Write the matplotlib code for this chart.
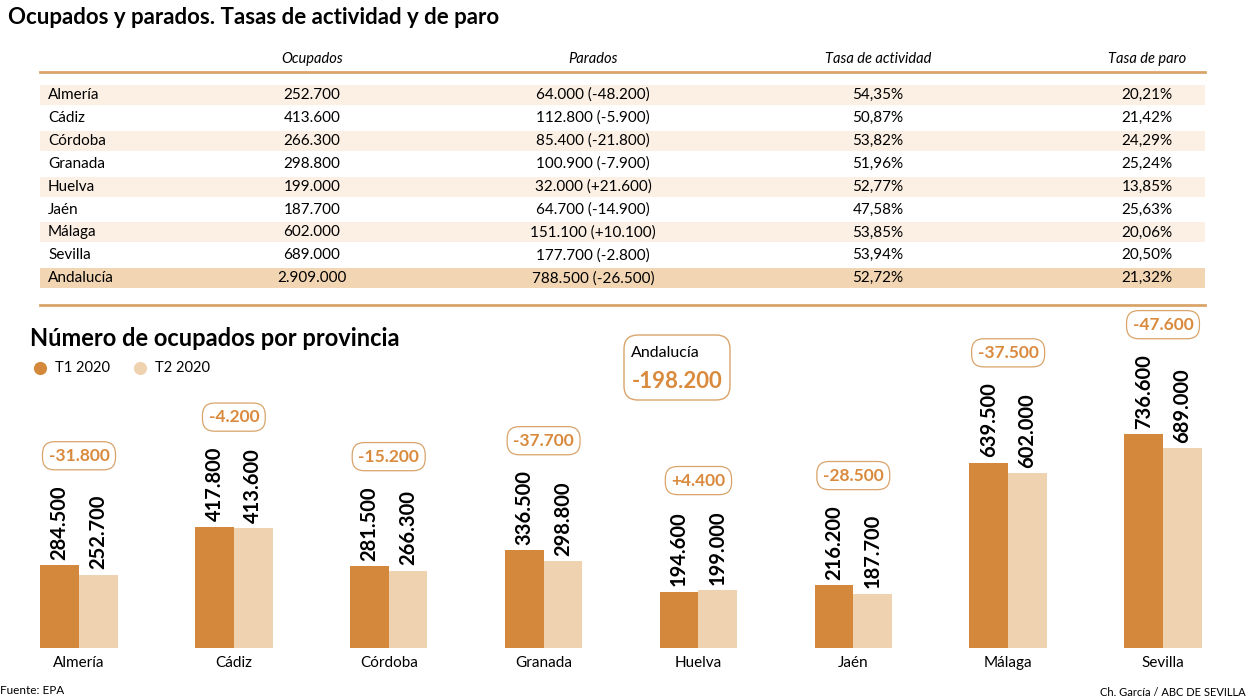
import matplotlib
matplotlib.use("Agg")
import matplotlib.pyplot as plt
import numpy as np
from matplotlib.patches import Rectangle, FancyBboxPatch

plt.rcParams["font.family"] = ["Lato", "DejaVu Sans"]

# --- datos de la tabla ---
provincias = ["Almería", "Cádiz", "Córdoba", "Granada", "Huelva", "Jaén", "Málaga", "Sevilla", "Andalucía"]
ocupados = ["252.700", "413.600", "266.300", "298.800", "199.000", "187.700", "602.000", "689.000", "2.909.000"]
parados = ["64.000 (-48.200)", "112.800 (-5.900)", "85.400 (-21.800)", "100.900 (-7.900)",
           "32.000 (+21.600)", "64.700 (-14.900)", "151.100 (+10.100)", "177.700 (-2.800)",
           "788.500 (-26.500)"]
tasa_actividad = ["54,35%", "50,87%", "53,82%", "51,96%", "52,77%", "47,58%", "53,85%", "53,94%", "52,72%"]
tasa_paro = ["20,21%", "21,42%", "24,29%", "25,24%", "13,85%", "25,63%", "20,06%", "20,50%", "21,32%"]
columnas = ["Ocupados", "Parados", "Tasa de actividad", "Tasa de paro"]

# --- datos del gráfico (miles) ---
barras_prov = ["Almería", "Cádiz", "Córdoba", "Granada", "Huelva", "Jaén", "Málaga", "Sevilla"]
t1_2020 = [284.5, 417.8, 281.5, 336.5, 194.6, 216.2, 639.5, 736.6]
t2_2020 = [252.7, 413.6, 266.3, 298.8, 199.0, 187.7, 602.0, 689.0]
variacion = ["-31.800", "-4.200", "-15.200", "-37.700", "+4.400", "-28.500", "-37.500", "-47.600"]
total_andalucia = "-198.200"

C_T1 = "#d4883c"
C_T2 = "#efd3b0"
C_LINE = "#d9a46a"
C_ORANGE = "#d98a3d"
W, H = 1248, 698

fig = plt.figure(figsize=(W / 100, H / 100), dpi=100)
fig.patch.set_facecolor("white")

# capa en píxeles para tabla y textos
ax0 = fig.add_axes([0, 0, 1, 1])
ax0.set_xlim(0, W)
ax0.set_ylim(H, 0)
ax0.axis("off")

ax0.text(8, 18, "Ocupados y parados. Tasas de actividad y de paro", fontsize=16,
         fontweight="bold", va="center", ha="left")

col_x = [312, 593, 878, 1147]
for cx, name in zip(col_x, columnas):
    ax0.text(cx, 59, name, fontsize=10.5, style="italic", ha="center", va="center")
ax0.plot([40, 1205], [72, 72], color=C_LINE, lw=2)
ax0.plot([40, 1205], [305, 305], color=C_LINE, lw=2)

row_y = 95
step = 22.9
for i, prov in enumerate(provincias):
    y = row_y + i * step
    if prov == "Andalucía":
        ax0.add_patch(Rectangle((40, y - 10), 1165, 20, color="#f2d5b3", lw=0))
    elif i % 2 == 0:
        ax0.add_patch(Rectangle((40, y - 10), 1165, 20, color="#fcf0e4", lw=0))
    ax0.text(48, y, prov, fontsize=11, va="center", ha="left")
    for cx, vals in zip(col_x, [ocupados, parados, tasa_actividad, tasa_paro]):
        ax0.text(cx, y, vals[i], fontsize=11, va="center", ha="center")

# segundo bloque
ax0.text(30, 338, "Número de ocupados por provincia", fontsize=17, fontweight="bold",
         va="center", ha="left")
ax0.scatter([40], [368], s=90, color=C_T1, lw=0)
ax0.text(55, 368, "T1 2020", fontsize=10.5, va="center")
ax0.scatter([140], [368], s=90, color=C_T2, lw=0)
ax0.text(155, 368, "T2 2020", fontsize=10.5, va="center")

ax0.add_patch(FancyBboxPatch((630, 341), 94, 53, boxstyle="round,pad=6,rounding_size=14",
                             fc="white", ec=C_LINE, lw=1))
ax0.text(631, 353, "Andalucía", fontsize=11.5, ha="left", va="center")
ax0.text(677, 381, total_andalucia, fontsize=16, fontweight="bold", color=C_ORANGE,
         ha="center", va="center")

ax0.text(0, 690, "Fuente: EPA", fontsize=8.5, va="center", ha="left")
ax0.text(1246, 692, "Ch. García / ABC DE SEVILLA", fontsize=8, va="center", ha="right")

# gráfico de barras
base_px = 648
top_px = 300
ax = fig.add_axes([0, (H - base_px) / H, 1, (base_px - top_px) / H])
ax.patch.set_alpha(0)
ax.set_ylim(0, 1200)
step_px = (1163 - 79) / 7
ax.set_xlim(-79 / step_px, (W - 79) / step_px)
ax.axis("off")

x = np.arange(len(barras_prov))
bw = 0.25
ax.bar(x - bw / 2, t1_2020, width=bw, color=C_T1, lw=0)
ax.bar(x + bw / 2, t2_2020, width=bw, color=C_T2, lw=0)

for xi, v1, v2, prov, d in zip(x, t1_2020, t2_2020, barras_prov, variacion):
    for xx, v in [(xi - bw / 2, v1), (xi + bw / 2, v2)]:
        ax.annotate(f"{v:.3f}", xy=(xx, v), xytext=(0, 4), textcoords="offset points",
                    rotation=90, ha="center", va="bottom", fontsize=14.5, fontweight="bold")
    ax.annotate(d, xy=(xi, max(v1, v2)), xytext=(0, 79), textcoords="offset points",
                ha="center", va="center", fontsize=12.5, fontweight="bold", color=C_ORANGE,
                bbox=dict(boxstyle="round,pad=0.35,rounding_size=0.7", fc="white", ec=C_LINE, lw=0.9))
    ax.annotate(prov, xy=(xi, 0), xytext=(0, -11), textcoords="offset points",
                ha="center", va="center", fontsize=11)

fig.savefig("out.png", dpi=100)
